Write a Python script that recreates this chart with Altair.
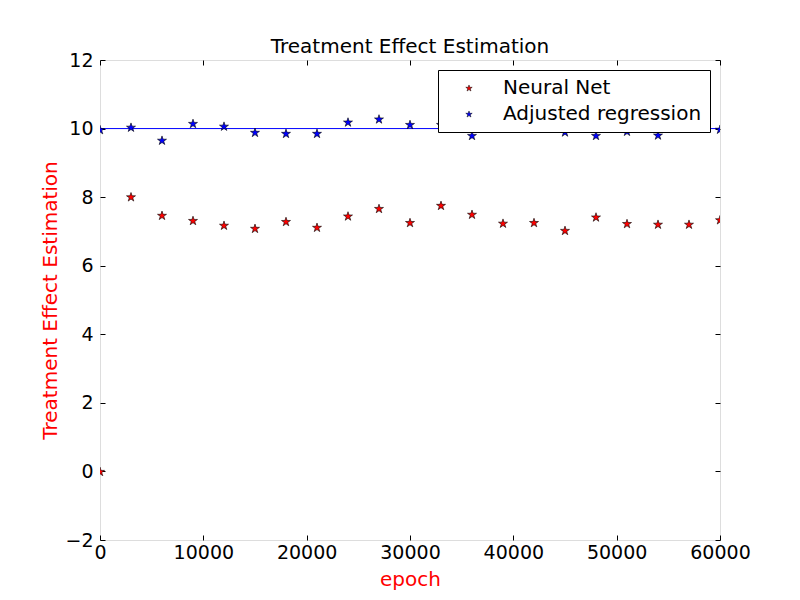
import math
import altair as alt
import pandas as pd

epochs = [0, 3000, 6000, 9000, 12000, 15000, 18000, 21000, 24000, 27000, 30000,
          33000, 36000, 39000, 42000, 45000, 48000, 51000, 54000, 57000, 60000]
neural_net = [0.0, 8.01, 7.47, 7.32, 7.18, 7.09, 7.29, 7.12, 7.45, 7.67, 7.26,
              7.76, 7.50, 7.24, 7.26, 7.03, 7.42, 7.23, 7.21, 7.21, 7.34]
adjusted_regression = [9.97, 10.04, 9.66, 10.15, 10.07, 9.89, 9.86, 9.86, 10.19, 10.28, 10.12,
                       10.12, 9.80, 10.08, 10.2, 9.90, 9.80, 9.92, 9.81, 10.1, 9.98]
series_names = ["Neural Net", "Adjusted regression"]
series_colors = ["#ff0000", "#0000ff"]
true_x = [0, 60000]
true_y = [10, 10]
x_ticks = [0, 10000, 20000, 30000, 40000, 50000, 60000]
y_ticks = [-2, 0, 2, 4, 6, 8, 10, 12]

pts = []
for k in range(10):
    r = 1.0 if k % 2 == 0 else 0.382
    a = math.radians(-90 + 36 * k)
    pts.append(f"{r*math.cos(a):.3f},{r*math.sin(a) + 0.095:.3f}")
star = "M" + "L".join(pts) + "Z"

df = pd.DataFrame({
    "epoch": epochs * 2,
    "value": neural_net + adjusted_regression,
    "series": [series_names[0]] * len(epochs) + [series_names[1]] * len(epochs),
})
line_df = pd.DataFrame({"x": true_x, "y": true_y})

FONT = "DejaVu Sans"
xscale = alt.Scale(domain=[0, 60000], nice=False, zero=False)
yscale = alt.Scale(domain=[-2, 12], nice=False, zero=False)

common = dict(tickSize=5, offset=-5, domain=False, grid=False, tickColor="black",
              labelColor="black", labelFontSize=19, labelFont=FONT, labelFlush=False)

line = alt.Chart(line_df).mark_line(color="#0000ff", strokeWidth=1.0, clip=True).encode(
    x=alt.X("x:Q", scale=xscale,
            axis=alt.Axis(orient="top", labels=False, title=None, values=x_ticks, **common)),
    y=alt.Y("y:Q", scale=yscale,
            axis=alt.Axis(orient="right", labels=False, title=None, values=y_ticks, **common)),
)

points = alt.Chart(df).mark_point(
    shape=star, filled=True, size=90, stroke="black", strokeWidth=0.6, opacity=1, clip=True
).encode(
    x=alt.X("epoch:Q", scale=xscale,
            axis=alt.Axis(orient="bottom", title="epoch", values=x_ticks, format="d",
                          labelPadding=3, titleColor="#ff0000", titleFontSize=20,
                          titleFontWeight="normal", titleFont=FONT, titlePadding=7, **common)),
    y=alt.Y("value:Q", scale=yscale,
            axis=alt.Axis(orient="left", title="Treatment Effect Estimation", values=y_ticks,
                          format="d", labelPadding=7, titleColor="#ff0000", titleFontSize=20,
                          titleFontWeight="normal", titleFont=FONT, titlePadding=4, **common)),
    color=alt.Color("series:N", scale=alt.Scale(domain=series_names, range=series_colors),
                    legend=alt.Legend(title=None, orient="top-right", offset=10,
                                      fillColor="white", strokeColor="black", padding=8,
                                      labelFontSize=20, labelFont=FONT, labelColor="black",
                                      labelLimit=400, symbolSize=45, symbolType=star,
                                      symbolOffset=13, labelOffset=24, rowPadding=6,
                                      cornerRadius=0, symbolStrokeColor="black",
                                      symbolStrokeWidth=0.5)),
)

chart = alt.layer(line, points).resolve_axis(x="independent", y="independent").properties(
    width=620, height=480,
    title=alt.TitleParams("Treatment Effect Estimation", fontSize=20, fontWeight="normal",
                          font=FONT, color="black", offset=-6),
    autosize=alt.AutoSizeParams(type="none"),
    padding={"left": 92, "top": 52, "right": 72, "bottom": 52},
).configure_view(stroke="black", strokeWidth=1.2).configure(background="white")

chart.save("out.html", embed_options={"renderer": "svg", "actions": False})
